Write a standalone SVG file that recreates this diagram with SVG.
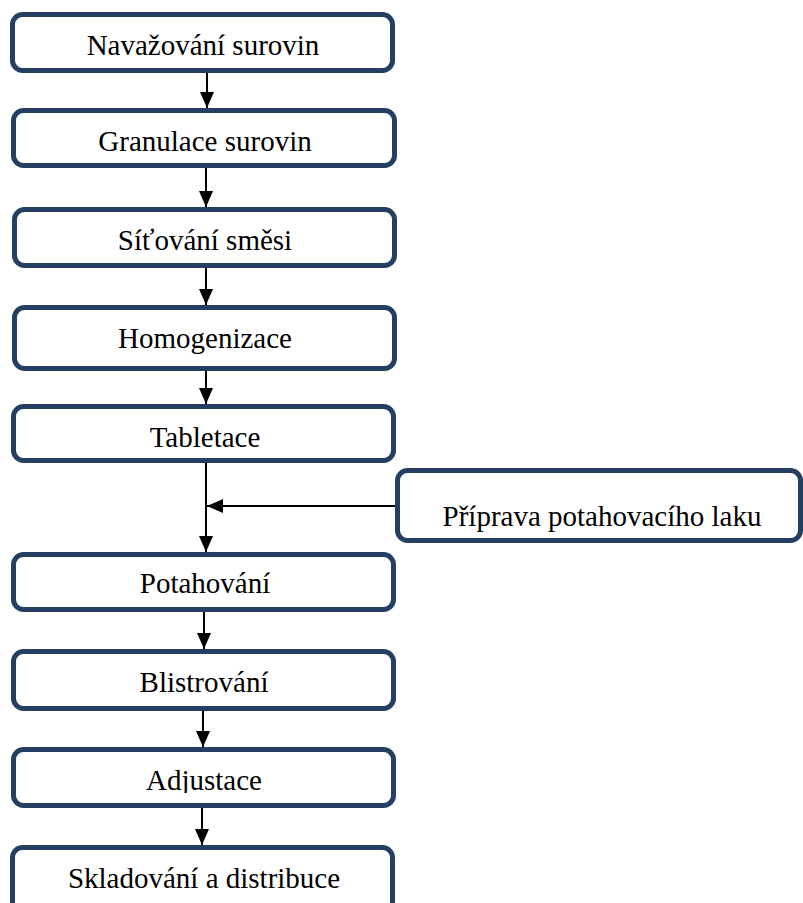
<svg xmlns="http://www.w3.org/2000/svg" width="803" height="903" viewBox="0 0 803 903">
  <style>
    .box { fill: #ffffff; stroke: #243F61; stroke-width: 5; }
    .label { font-family: "Liberation Serif", "Times New Roman", serif; font-size: 29px; fill: #000000; text-anchor: middle; }
    .link { stroke: #000000; stroke-width: 2; fill: none; }
  </style>
  <defs>
    <marker id="head" markerUnits="userSpaceOnUse" markerWidth="16" markerHeight="16" viewBox="0 0 16 14" refX="16" refY="7" orient="auto">
      <path d="M0,0 L16,7 L0,14 Z" fill="#000000"/>
    </marker>
    <clipPath id="clipAdj">
      <rect x="0" y="740" width="420" height="53"/>
    </clipPath>
  </defs>

  <rect width="803" height="903" fill="#ffffff"/>

  <!-- process steps -->
  <g id="navazovani">
    <rect class="box" x="12.5" y="14.5" width="380" height="56" rx="10"/>
    <text class="label" x="203" y="55">Navažování surovin</text>
  </g>
  <g id="granulace">
    <rect class="box" x="13.5" y="110.5" width="381" height="55" rx="10"/>
    <text class="label" x="205" y="151">Granulace surovin</text>
  </g>
  <g id="sitovani">
    <rect class="box" x="14.5" y="209.5" width="380" height="56" rx="10"/>
    <text class="label" x="205" y="250">Síťování směsi</text>
  </g>
  <g id="homogenizace">
    <rect class="box" x="14.5" y="307.5" width="380" height="61" rx="10"/>
    <text class="label" x="205" y="348">Homogenizace</text>
  </g>
  <g id="tabletace">
    <rect class="box" x="13.5" y="406.5" width="380" height="54" rx="10"/>
    <text class="label" x="205" y="447">Tabletace</text>
  </g>
  <g id="priprava-laku">
    <rect class="box" x="397.5" y="470.5" width="403" height="70" rx="10"/>
    <text class="label" x="602" y="526">Příprava potahovacího laku</text>
  </g>
  <g id="potahovani">
    <rect class="box" x="13.5" y="554.5" width="380" height="55" rx="10"/>
    <text class="label" x="205" y="593">Potahování</text>
  </g>
  <g id="blistrovani">
    <rect class="box" x="13.5" y="651.5" width="380" height="57" rx="10"/>
    <text class="label" x="204" y="692">Blistrování</text>
  </g>
  <g id="adjustace">
    <rect class="box" x="13.5" y="749.5" width="380" height="56" rx="10"/>
    <text class="label" x="204" y="790" clip-path="url(#clipAdj)">Adjustace</text>
  </g>
  <g id="skladovani">
    <rect class="box" x="12.5" y="847.5" width="380" height="70" rx="10"/>
    <text class="label" x="204" y="888">Skladování a distribuce</text>
  </g>

  <!-- connectors -->
  <g id="connectors">
    <line class="link" x1="207" y1="73" x2="207" y2="108" marker-end="url(#head)"/>
    <line class="link" x1="206" y1="168" x2="206" y2="207" marker-end="url(#head)"/>
    <line class="link" x1="206" y1="268" x2="206" y2="305" marker-end="url(#head)"/>
    <line class="link" x1="206" y1="371" x2="206" y2="404" marker-end="url(#head)"/>
    <line class="link" x1="206" y1="463" x2="206" y2="552" marker-end="url(#head)"/>
    <line class="link" x1="395" y1="506" x2="207" y2="506" marker-end="url(#head)"/>
    <line class="link" x1="204" y1="612" x2="204" y2="649" marker-end="url(#head)"/>
    <line class="link" x1="203" y1="711" x2="203" y2="747" marker-end="url(#head)"/>
    <line class="link" x1="202" y1="808" x2="202" y2="845" marker-end="url(#head)"/>
  </g>
</svg>
